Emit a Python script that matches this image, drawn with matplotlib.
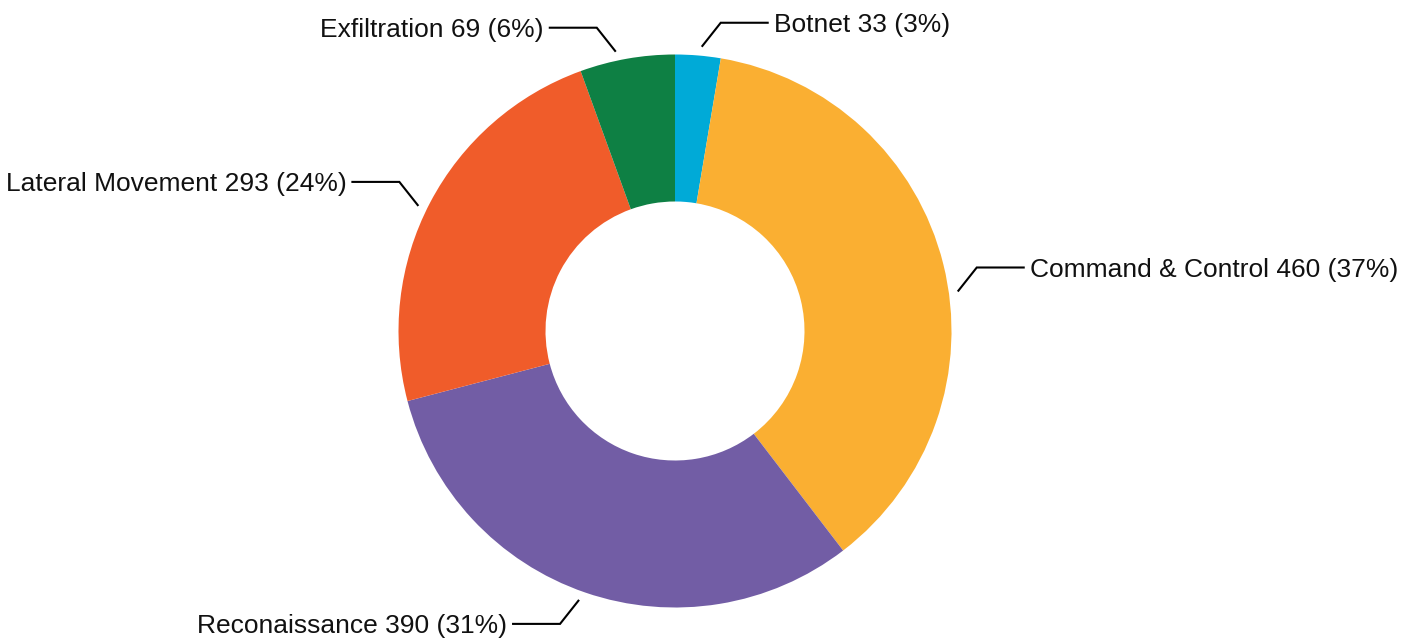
import numpy as np
import matplotlib
matplotlib.use("Agg")
import matplotlib.pyplot as plt

categories = ["Botnet", "Command & Control", "Reconaissance", "Lateral Movement", "Exfiltration"]
values = [33, 460, 390, 293, 69]
colors = ["#00AAD7", "#FAAF32", "#725DA5", "#F05C2A", "#0E8044"]

W, H = 1412, 639
fig = plt.figure(figsize=(W / 100, H / 100), dpi=100)
ax = fig.add_axes([0, 0, 1, 1])

cx, cy = 675, H - 331
R_out, R_in = 276.5, 129.5

wedges, _ = ax.pie(values, colors=colors, startangle=90, counterclock=False,
                   radius=R_out, center=(cx, cy), frame=True,
                   wedgeprops=dict(width=R_out - R_in, linewidth=0))
ax.set_xlim(0, W)
ax.set_ylim(0, H)
ax.set_aspect("equal")
ax.axis("off")

# small angular nudges of the label anchors (degrees, matplotlib convention)
nudge = [-0.6, -6.0, -0.7, 1.7, 2.0]

total = sum(values)
font = ["Liberation Sans", "DejaVu Sans"]
for w, name, v, dn in zip(wedges, categories, values, nudge):
    mid = np.deg2rad((w.theta1 + w.theta2) / 2 + dn)
    r0 = R_out + 9
    x0 = cx + r0 * np.cos(mid)
    y0 = cy + r0 * np.sin(mid)
    sx = 1 if np.cos(mid) >= 0 else -1
    sy = 1 if np.sin(mid) >= 0 else -1
    x1 = x0 + sx * 19
    y1 = y0 + sy * 24
    x2 = x1 + sx * 48
    ax.plot([x0, x1, x2], [y0, y1, y1], color="black", lw=1.5,
            solid_joinstyle="miter", solid_capstyle="butt")
    pct = round(v / total * 100)
    ax.text(x2 + sx * 5, y1 - 9.5, f"{name} {v} ({pct}%)",
            ha="left" if sx > 0 else "right", va="baseline",
            fontsize=19, family=font, color="#111111")

fig.savefig("out.png", dpi=100)
